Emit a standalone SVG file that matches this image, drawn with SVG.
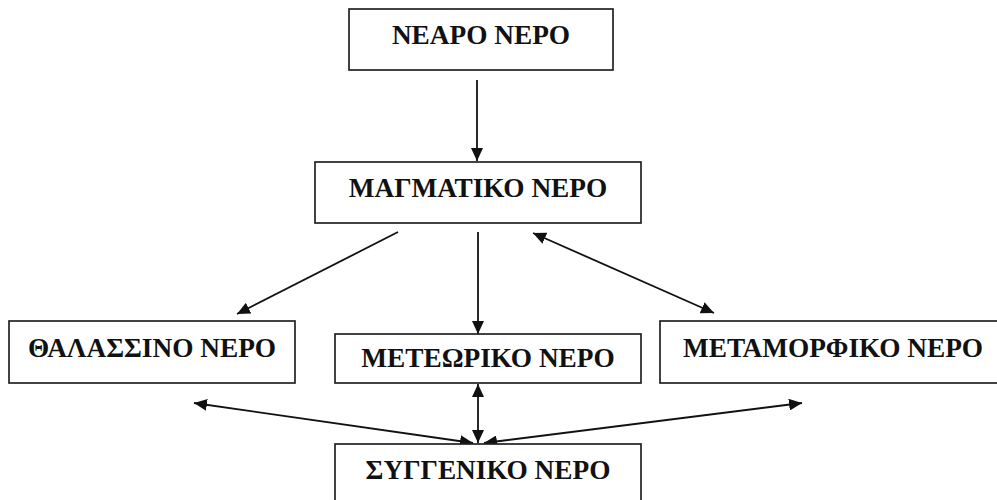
<svg xmlns="http://www.w3.org/2000/svg" width="997" height="500" viewBox="0 0 997 500">
<style>
.box{fill:#fff;stroke:#222;stroke-width:1.7}
.lbl{font-family:"Liberation Serif","Times New Roman",serif;font-weight:bold;font-size:27.3px;fill:#111;text-anchor:middle}
.con{stroke:#111;stroke-width:1.8;fill:none}
</style>
<defs>
<marker id="ah" viewBox="0 0 13 12" refX="13" refY="6" markerWidth="13" markerHeight="12" markerUnits="userSpaceOnUse" orient="auto-start-reverse">
<path d="M0,0 L13,6 L0,12 Z" fill="#111"/>
</marker>
</defs>
<rect width="997" height="500" fill="#fff"/>
<g id="connectors">
<line class="con" x1="477" y1="80" x2="477" y2="161" marker-end="url(#ah)"/>
<line class="con" x1="398" y1="232" x2="237" y2="314" marker-end="url(#ah)"/>
<line class="con" x1="478" y1="232" x2="478" y2="334" marker-end="url(#ah)"/>
<line class="con" x1="533" y1="233" x2="714" y2="313" marker-start="url(#ah)" marker-end="url(#ah)"/>
<line class="con" x1="478" y1="384" x2="478" y2="443" marker-start="url(#ah)" marker-end="url(#ah)"/>
<line class="con" x1="194" y1="403" x2="473" y2="443" marker-start="url(#ah)" marker-end="url(#ah)"/>
<line class="con" x1="802" y1="403" x2="484" y2="443" marker-start="url(#ah)" marker-end="url(#ah)"/>
</g>
<g id="neo">
<rect class="box" x="349" y="9" width="264" height="61"/>
<text class="lbl" x="481" y="44">ΝΕΑΡΟ ΝΕΡΟ</text>
</g>
<g id="magmatiko">
<rect class="box" x="315" y="162" width="326" height="61"/>
<text class="lbl" x="478" y="197">ΜΑΓΜΑΤΙΚΟ ΝΕΡΟ</text>
</g>
<g id="thalassino">
<rect class="box" x="9" y="321" width="286" height="62"/>
<text class="lbl" x="152" y="357">ΘΑΛΑΣΣΙΝΟ ΝΕΡΟ</text>
</g>
<g id="meteoriko">
<rect class="box" x="335" y="334" width="306" height="49"/>
<text class="lbl" x="488" y="367">ΜΕΤΕΩΡΙΚΟ ΝΕΡΟ</text>
</g>
<g id="metamorfiko">
<rect class="box" x="660" y="321" width="345" height="62"/>
<text class="lbl" x="833" y="357">ΜΕΤΑΜΟΡΦΙΚΟ ΝΕΡΟ</text>
</g>
<g id="syggeniko">
<rect class="box" x="335" y="444" width="306" height="70"/>
<text class="lbl" x="488" y="479">ΣΥΓΓΕΝΙΚΟ ΝΕΡΟ</text>
</g>
</svg>
